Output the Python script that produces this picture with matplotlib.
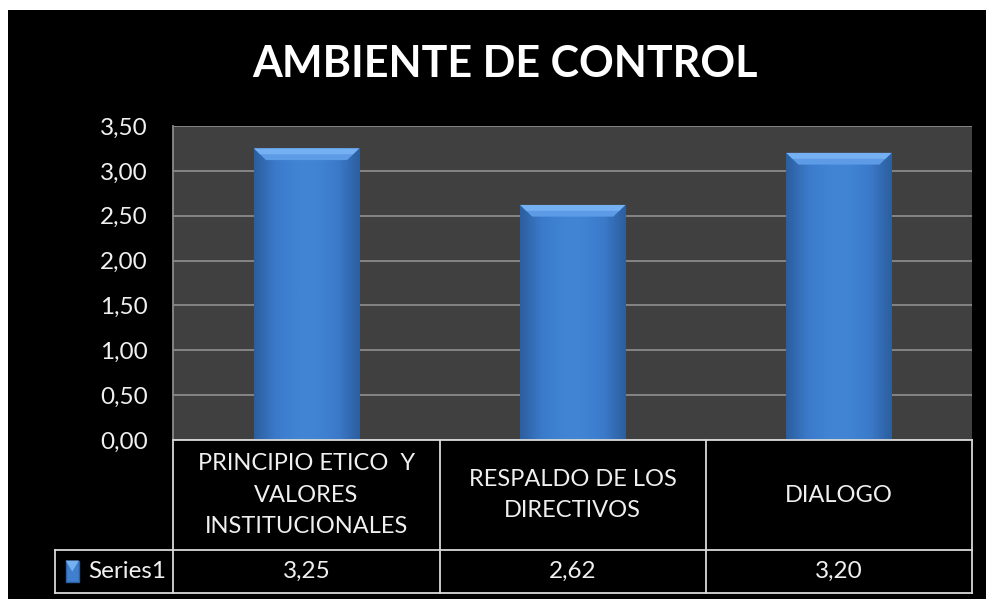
import numpy as np
import matplotlib
matplotlib.use("Agg")
from matplotlib import pyplot as plt
from matplotlib.patches import Rectangle, Polygon
from matplotlib.ticker import FuncFormatter
from matplotlib.colors import LinearSegmentedColormap

plt.rcParams['font.family'] = ['Lato', 'DejaVu Sans']

title = "AMBIENTE DE CONTROL"
categories = ["PRINCIPIO ETICO  Y\nVALORES\nINSTITUCIONALES",
              "RESPALDO DE LOS\nDIRECTIVOS",
              "DIALOGO"]
values = [3.25, 2.62, 3.20]
series_name = "Series1"
yticks = [0.0, 0.5, 1.0, 1.5, 2.0, 2.5, 3.0, 3.5]

W, H = 987, 599
fig = plt.figure(figsize=(W / 100, H / 100), dpi=100, facecolor='white')

# black chart area with thin white margin at top/left
fig.patches.append(Rectangle((8 / W, 0), 1 - 8 / W, 1 - 10 / H,
                             transform=fig.transFigure, facecolor='black',
                             edgecolor='none', zorder=-10))

fig.text(505 / W, 1 - 64 / H, title, color='white', fontsize=31,
         fontweight='bold', ha='center', va='center')

left, right, top, bottom = 173.5, 972, 126, 440
ax = fig.add_axes([left / W, 1 - bottom / H, (right - left) / W, (bottom - top) / H])
ax.set_zorder(2)
ax.set_facecolor('#404040')
ax.set_yticks(yticks)
ax.yaxis.set_major_formatter(FuncFormatter(lambda v, p: f"{v:.2f}".replace('.', ',')))
ax.tick_params(axis='y', length=0, pad=18.4, labelsize=17.5, labelcolor='#f0f0f0')
ax.set_xticks([])
ax.grid(axis='y', color='#8a8a8a', lw=1.3)
ax.set_axisbelow(True)
for s in ['top', 'right', 'bottom']:
    ax.spines[s].set_visible(False)
ax.spines['left'].set_color('#8a8a8a')
ax.spines['left'].set_linewidth(1.3)

# bars with a simple bevel look
cmap = LinearSegmentedColormap.from_list('b', ['#2c5f9f', '#3b7aca', '#4184d4', '#4184d4', '#3b7aca', '#2c5f9f'])
grad = np.linspace(0, 1, 64).reshape(1, -1)
bw = 0.395
bars = ax.bar(range(len(values)), values, width=bw, color='#3f7fcd', zorder=2)
for b, v in zip(bars, values):
    x0 = b.get_x()
    x1 = x0 + b.get_width()
    im = ax.imshow(grad, extent=[x0, x1, 0, v], aspect='auto', cmap=cmap, zorder=3)
    im.set_clip_path(b)
    d = 0.045
    t = 0.13
    ax.add_patch(Polygon([(x0, v), (x1, v), (x1 - d, v - t), (x0 + d, v - t)],
                         closed=True, facecolor='#5d9be6', edgecolor='none', zorder=4))
    ax.add_patch(Polygon([(x0, v), (x1, v), (x1 - d / 2, v - t / 2), (x0 + d / 2, v - t / 2)],
                         closed=True, facecolor='#74b0f2', edgecolor='none', zorder=4))
ax.set_xlim(-0.5, len(values) - 0.5)
ax.set_ylim(0, 3.5)

# data table under the axes
tr = ax.get_xaxis_transform()
h_head = -(550 - bottom) / (bottom - top)
h_val = -(593 - bottom) / (bottom - top)
x_leg = -0.5 - (left - 55) / ((right - left) / len(values))
lc = '#d9d9d9'
lw = 1.3
n = len(values)
ax.plot([-0.5, n - 0.5], [0, 0], transform=tr, color=lc, lw=lw, clip_on=False, zorder=5)
ax.plot([x_leg, n - 0.5], [h_head, h_head], transform=tr, color=lc, lw=lw, clip_on=False)
ax.plot([x_leg, n - 0.5], [h_val, h_val], transform=tr, color=lc, lw=lw, clip_on=False)
ax.plot([x_leg, x_leg], [h_head, h_val], transform=tr, color=lc, lw=lw, clip_on=False)
for i in range(n + 1):
    ax.plot([i - 0.5, i - 0.5], [0, h_val], transform=tr, color=lc, lw=lw, clip_on=False)
for i, (c, v) in enumerate(zip(categories, values)):
    ax.text(i, h_head / 2, c, transform=tr, ha='center', va='center', color='#f0f0f0',
            fontsize=17, linespacing=1.6, clip_on=False)
    ax.text(i, (h_head + h_val) / 2, f"{v:.2f}".replace('.', ','), transform=tr,
            ha='center', va='center', color='#f0f0f0', fontsize=17.5, clip_on=False)

# legend key
ky = (h_head + h_val) / 2
kw = 0.05
kh = 0.035
ax.add_patch(Rectangle((x_leg + 0.04, ky - kh), kw, 2 * kh, transform=tr,
                       facecolor='#3f7fcd', edgecolor='#2c5f9f', clip_on=False))
ax.add_patch(Polygon([(x_leg + 0.04, ky + kh), (x_leg + 0.04 + kw, ky + kh),
                      (x_leg + 0.04 + kw / 2, ky)], closed=True, transform=tr,
                     facecolor='#74b0f2', edgecolor='none', clip_on=False))
ax.text(x_leg + 0.125, ky, series_name, transform=tr, ha='left', va='center',
        color='#f0f0f0', fontsize=17.5, clip_on=False)

fig.savefig('out.png', dpi=100, facecolor=fig.get_facecolor())
